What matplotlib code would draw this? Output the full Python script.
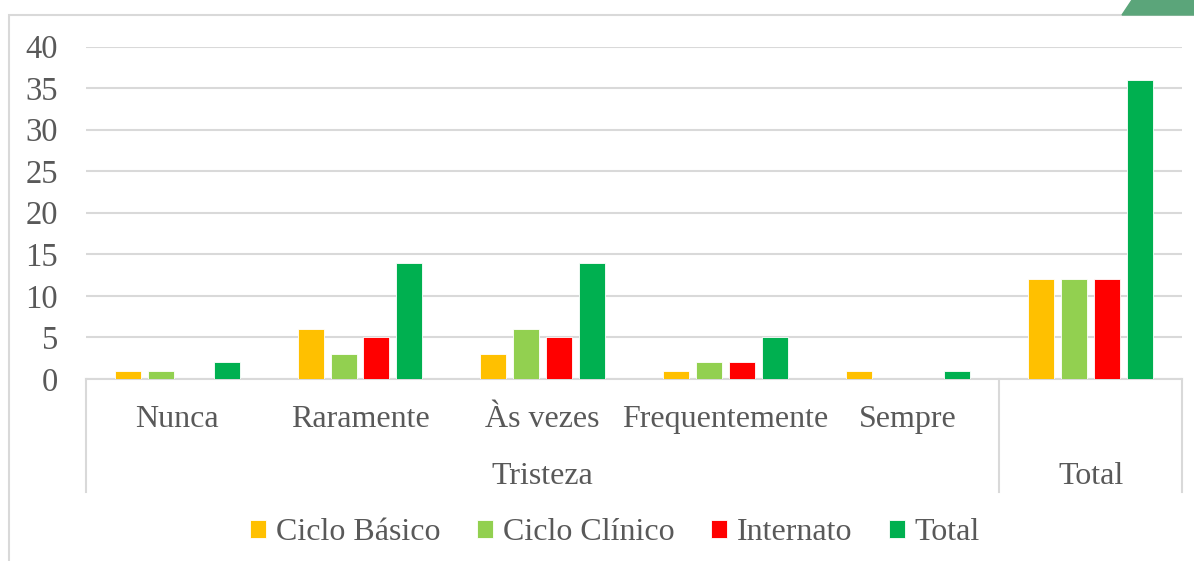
import numpy as np
import matplotlib
matplotlib.use("Agg")
import matplotlib.pyplot as plt
from matplotlib.patches import Rectangle, Polygon
from matplotlib.lines import Line2D

plt.rcParams['font.family'] = ['Liberation Serif', 'DejaVu Serif']

# data
categories = ["Nunca", "Raramente", "Às vezes", "Frequentemente", "Sempre", ""]
groups = ["Tristeza", "Total"]
series = ["Ciclo Básico", "Ciclo Clínico", "Internato", "Total"]
ciclo_basico = [1, 6, 3, 1, 1, 12]
ciclo_clinico = [1, 3, 6, 2, 0, 12]
internato = [0, 5, 5, 2, 0, 12]
total = [2, 14, 14, 5, 1, 36]
colors = ["#FFC000", "#92D050", "#FF0000", "#00B050"]

W, H = 1194, 561
fig = plt.figure(figsize=(W / 100, H / 100), dpi=100)
ax = fig.add_axes([86 / W, 1 - 379 / H, (1182 - 86) / W, (379 - 46.5) / H])

txt = "#595959"
grid = "#D9D9D9"

x = np.arange(len(categories))
bw = 0.142
step = 0.18
for i, (vals, c) in enumerate(zip([ciclo_basico, ciclo_clinico, internato, total], colors)):
    ax.bar(x + (i - 1.5) * step, vals, width=bw, color=c, edgecolor="white",
           linewidth=0.6, label=series[i], zorder=3)

ax.set_xlim(-0.5, len(categories) - 0.5)
ax.set_ylim(0, 40)
ax.set_yticks(range(0, 41, 5))
ax.yaxis.grid(True, color=grid, linewidth=1.5, zorder=0)
for s in ["left", "right", "top"]:
    ax.spines[s].set_visible(False)
ax.spines["bottom"].set_color(grid)
ax.spines["bottom"].set_linewidth(1.5)
ax.tick_params(axis="y", length=0, pad=20, labelsize=23.5, labelcolor=txt)
ax.set_xticks(x)
ax.set_xticklabels(categories)
ax.tick_params(axis="x", length=0, pad=19, labelsize=23, labelcolor=txt)

# multi-level category separators
xt = ax.get_xaxis_transform()
for b in [-0.5, 4.5, 5.5]:
    ax.add_line(Line2D([b, b], [0, -113 / 332.5], transform=xt, color=grid,
                       linewidth=1.5, clip_on=False))
ax.text(2.0, -97 / 332.5, groups[0], transform=xt, ha="center", va="center",
        fontsize=23, color=txt)
ax.text(5.0, -97 / 332.5, groups[1], transform=xt, ha="center", va="center",
        fontsize=23, color=txt)

leg = fig.legend(loc="center", bbox_to_anchor=(615 / W, 1 - 533 / H), ncol=4,
                 frameon=False, fontsize=23, handlelength=0.5, handleheight=0.5,
                 handletextpad=0.3, columnspacing=1.15, labelcolor=txt)

# chart frame + corner decoration
fig.patches.append(Rectangle((9 / W, -0.1), 1.2, 1 - 15 / H + 0.1, transform=fig.transFigure,
                             fill=False, edgecolor=grid, linewidth=1.5))
fig.patches.append(Polygon([(1122 / W, 1 - 15 / H), (1132 / W, 1), (1, 1), (1, 1 - 15 / H)],
                           closed=True, transform=fig.transFigure, color="#5BA57A"))

fig.savefig("out.png", dpi=100)
